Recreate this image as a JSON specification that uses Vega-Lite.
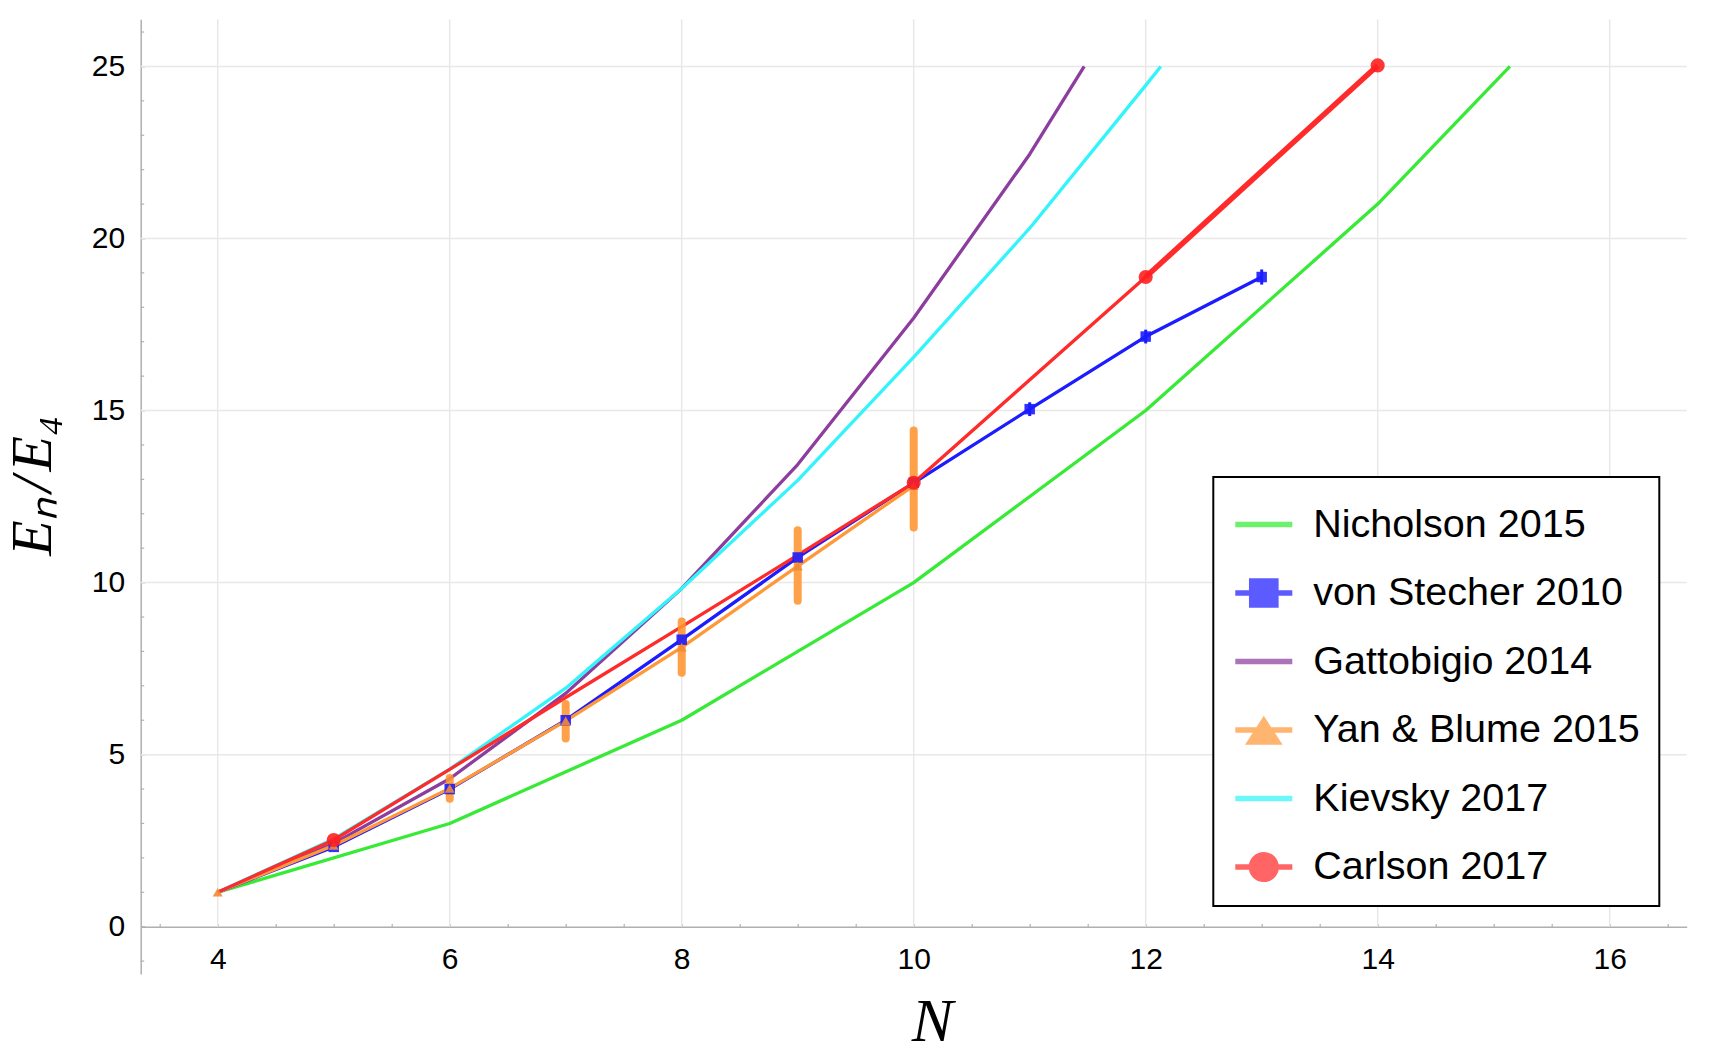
{
  "$schema": "https://vega.github.io/schema/vega-lite/v6.json",
  "width": 1546,
  "height": 954.7,
  "autosize": {"type": "none"},
  "padding": {"left": 140.7, "top": 19.3, "right": 25.3, "bottom": 84},
  "background": "white",
  "config": {
    "view": {"stroke": null},
    "font": "Liberation Sans",
    "legend": {"strokeWidth": 2},
    "axis": {"labelOverlap": false}
  },
  "datasets": {
    "curves": [
      {"series": "Nicholson 2015", "N": 4, "E": 1},
      {"series": "Nicholson 2015", "N": 6, "E": 3},
      {"series": "Nicholson 2015", "N": 8, "E": 6},
      {"series": "Nicholson 2015", "N": 10, "E": 10},
      {"series": "Nicholson 2015", "N": 12, "E": 15},
      {"series": "Nicholson 2015", "N": 14, "E": 21},
      {"series": "Nicholson 2015", "N": 15.14, "E": 25},
      {"series": "von Stecher 2010", "N": 4, "E": 1},
      {"series": "von Stecher 2010", "N": 5, "E": 2.32},
      {"series": "von Stecher 2010", "N": 6, "E": 4.0},
      {"series": "von Stecher 2010", "N": 7, "E": 6.0},
      {"series": "von Stecher 2010", "N": 8, "E": 8.34},
      {"series": "von Stecher 2010", "N": 9, "E": 10.73},
      {"series": "von Stecher 2010", "N": 10, "E": 12.9},
      {"series": "von Stecher 2010", "N": 11, "E": 15.04},
      {"series": "von Stecher 2010", "N": 12, "E": 17.15},
      {"series": "von Stecher 2010", "N": 13, "E": 18.88},
      {"series": "Gattobigio 2014", "N": 4, "E": 1},
      {"series": "Gattobigio 2014", "N": 5, "E": 2.42},
      {"series": "Gattobigio 2014", "N": 6, "E": 4.3},
      {"series": "Gattobigio 2014", "N": 7, "E": 6.78},
      {"series": "Gattobigio 2014", "N": 8, "E": 9.83},
      {"series": "Gattobigio 2014", "N": 9, "E": 13.43},
      {"series": "Gattobigio 2014", "N": 10, "E": 17.69},
      {"series": "Gattobigio 2014", "N": 11, "E": 22.45},
      {"series": "Gattobigio 2014", "N": 11.47, "E": 25},
      {"series": "Yan & Blume 2015", "N": 4, "E": 1},
      {"series": "Yan & Blume 2015", "N": 5, "E": 2.36},
      {"series": "Yan & Blume 2015", "N": 6, "E": 4.02},
      {"series": "Yan & Blume 2015", "N": 7, "E": 5.98},
      {"series": "Yan & Blume 2015", "N": 8, "E": 8.12},
      {"series": "Yan & Blume 2015", "N": 9, "E": 10.48},
      {"series": "Yan & Blume 2015", "N": 10, "E": 12.82},
      {"series": "Kievsky 2017", "N": 4, "E": 1},
      {"series": "Kievsky 2017", "N": 5, "E": 2.55},
      {"series": "Kievsky 2017", "N": 6, "E": 4.58},
      {"series": "Kievsky 2017", "N": 7, "E": 6.93},
      {"series": "Kievsky 2017", "N": 8, "E": 9.83},
      {"series": "Kievsky 2017", "N": 9, "E": 12.97},
      {"series": "Kievsky 2017", "N": 10, "E": 16.55},
      {"series": "Kievsky 2017", "N": 11, "E": 20.3},
      {"series": "Kievsky 2017", "N": 12, "E": 24.45},
      {"series": "Kievsky 2017", "N": 12.13, "E": 25},
      {"series": "Carlson 2017", "N": 4, "E": 1},
      {"series": "Carlson 2017", "N": 5, "E": 2.52},
      {"series": "Carlson 2017", "N": 6, "E": 4.57},
      {"series": "Carlson 2017", "N": 7, "E": 6.66},
      {"series": "Carlson 2017", "N": 8, "E": 8.72},
      {"series": "Carlson 2017", "N": 9, "E": 10.8},
      {"series": "Carlson 2017", "N": 10, "E": 12.9},
      {"series": "Carlson 2017", "N": 12, "E": 18.88},
      {"series": "Carlson 2017", "N": 14, "E": 25.03}
    ],
    "markers": [
      {"series": "von Stecher 2010", "N": 5, "E": 2.32},
      {"series": "von Stecher 2010", "N": 6, "E": 4.0},
      {"series": "von Stecher 2010", "N": 7, "E": 6.0},
      {"series": "von Stecher 2010", "N": 8, "E": 8.34},
      {"series": "von Stecher 2010", "N": 9, "E": 10.73},
      {"series": "von Stecher 2010", "N": 10, "E": 12.9},
      {"series": "von Stecher 2010", "N": 11, "E": 15.04, "lo": 14.84, "hi": 15.24},
      {"series": "von Stecher 2010", "N": 12, "E": 17.15, "lo": 16.95, "hi": 17.35},
      {"series": "von Stecher 2010", "N": 13, "E": 18.88, "lo": 18.66, "hi": 19.1},
      {"series": "Yan & Blume 2015", "N": 4, "E": 1},
      {"series": "Yan & Blume 2015", "N": 5, "E": 2.36},
      {"series": "Yan & Blume 2015", "N": 6, "E": 4.02, "lo": 3.72, "hi": 4.32},
      {"series": "Yan & Blume 2015", "N": 7, "E": 5.98, "lo": 5.47, "hi": 6.47},
      {"series": "Yan & Blume 2015", "N": 8, "E": 8.12, "lo": 7.38, "hi": 8.87},
      {"series": "Yan & Blume 2015", "N": 9, "E": 10.48, "lo": 9.47, "hi": 11.52},
      {"series": "Yan & Blume 2015", "N": 10, "E": 12.82, "lo": 11.6, "hi": 14.42},
      {"series": "Carlson 2017", "N": 5, "E": 2.52},
      {"series": "Carlson 2017", "N": 10, "E": 12.9},
      {"series": "Carlson 2017", "N": 12, "E": 18.88},
      {"series": "Carlson 2017", "N": 14, "E": 25.03}
    ],
    "vgrid": [{"N": 4}, {"N": 6}, {"N": 8}, {"N": 10}, {"N": 12}, {"N": 14}, {"N": 16}],
    "hgrid": [{"E": 5}, {"E": 10}, {"E": 15}, {"E": 20}, {"E": 25}],
    "yminor": [
      {"E": -1}, {"E": 1}, {"E": 2}, {"E": 3}, {"E": 4}, {"E": 6}, {"E": 7}, {"E": 8}, {"E": 9},
      {"E": 11}, {"E": 12}, {"E": 13}, {"E": 14}, {"E": 16}, {"E": 17}, {"E": 18}, {"E": 19},
      {"E": 21}, {"E": 22}, {"E": 23}, {"E": 24}, {"E": 26}
    ]
  },
  "layer": [
    {
      "data": {"name": "vgrid"},
      "mark": {"type": "rule", "color": "#e8e8e8", "strokeWidth": 1.5},
      "encoding": {
        "x": {"field": "N", "type": "quantitative", "scale": {"domain": [3.336, 16.664], "nice": false, "zero": false}, "axis": {"title": "N"}},
        "y": {"datum": 0, "type": "quantitative", "scale": {"domain": [-1.375, 26.37], "nice": false, "zero": false}, "axis": {"title": "E\u2099\u200a/\u200aE\u2084"}},
        "y2": {"datum": 26.37}
      }
    },
    {
      "data": {"name": "hgrid"},
      "mark": {"type": "rule", "color": "#e8e8e8", "strokeWidth": 1.5},
      "encoding": {
        "y": {"field": "E", "type": "quantitative", "axis": {"title": "E\u2099\u200a/\u200aE\u2084"}},
        "x": {"datum": 3.336, "type": "quantitative", "axis": {"title": "N"}},
        "x2": {"datum": 16.664}
      }
    },
    {
      "data": {"name": "yminor"},
      "mark": {"type": "rule", "color": "#b0b0b0", "strokeWidth": 1.2},
      "encoding": {
        "y": {"field": "E", "type": "quantitative", "axis": {"title": "E\u2099\u200a/\u200aE\u2084"}},
        "x": {"datum": 3.336, "type": "quantitative", "axis": {"title": "N"}},
        "x2": {"datum": 3.366}
      }
    },
    {
      "data": {"name": "curves"},
      "mark": {"type": "line", "strokeWidth": 3.3, "strokeJoin": "round"},
      "encoding": {
        "x": {
          "field": "N", "type": "quantitative",
          "axis": {
            "title": "N",
            "values": [3.5, 4, 4.5, 5, 5.5, 6, 6.5, 7, 7.5, 8, 8.5, 9, 9.5, 10, 10.5, 11, 11.5, 12, 12.5, 13, 13.5, 14, 14.5, 15, 15.5, 16, 16.5],
            "labelExpr": "datum.value % 2 === 0 ? format(datum.value, 'd') : ''",
            "grid": false,
            "offset": -47.3,
            "domainColor": "#b0b0b0", "domainWidth": 1.5,
            "tickColor": "#b0b0b0", "tickWidth": 1.2, "tickSize": -3.3,
            "labelPadding": 21, "labelFont": "Liberation Sans", "labelFontSize": 30, "labelColor": "black",
            "labelOverlap": false, "labelFlush": false,
            "titleFont": "Liberation Serif", "titleFontStyle": "italic", "titleFontWeight": "normal",
            "titleFontSize": 62, "titleColor": "black",
            "titleX": 791.3, "titleY": 113.3, "titleBaseline": "alphabetic", "titleAlign": "center"
          }
        },
        "y": {
          "field": "E", "type": "quantitative",
          "axis": {
            "title": "E\u2099\u200a/\u200aE\u2084",
            "values": [0, 5, 10, 15, 20, 25],
            "format": "d",
            "grid": false,
            "domainColor": "#b0b0b0", "domainWidth": 1.5,
            "tickColor": "#b0b0b0", "tickWidth": 1.2, "tickSize": -4,
            "labelPadding": 20, "labelFont": "Liberation Sans", "labelFontSize": 30, "labelColor": "black",
            "labelOverlap": false, "labelFlush": false,
            "titleFont": "Liberation Serif", "titleFontStyle": "italic", "titleFontWeight": "normal",
            "titleFontSize": 58, "titleColor": "black",
            "titleX": -90, "titleY": 466, "titleAngle": 270, "titleBaseline": "alphabetic", "titleAlign": "center"
          }
        },
        "stroke": {
          "field": "series", "type": "nominal",
          "scale": {
            "domain": ["Carlson 2017", "Kievsky 2017", "Yan & Blume 2015", "Gattobigio 2014", "von Stecher 2010", "Nicholson 2015"],
            "range": ["#ff2a2a", "#33f4fa", "#ff9838", "#8c3d9e", "#1c1cff", "#36ea36"]
          },
          "legend": null
        },
        "order": {"field": "N", "type": "quantitative"}
      }
    },
    {
      "data": {"name": "curves"},
      "transform": [{"filter": "datum.series === 'Carlson 2017' && datum.N >= 12"}],
      "mark": {"type": "line", "strokeWidth": 5.5, "color": "#ff2a2a"},
      "encoding": {
        "x": {"field": "N", "type": "quantitative", "axis": {"title": "N"}},
        "y": {"field": "E", "type": "quantitative", "axis": {"title": "E\u2099\u200a/\u200aE\u2084"}}
      }
    },
    {
      "data": {"name": "markers"},
      "transform": [{"filter": "datum.series === 'von Stecher 2010' && isValid(datum.lo)"}],
      "mark": {"type": "rule", "strokeWidth": 3, "color": "#1c1cff"},
      "encoding": {
        "x": {"field": "N", "type": "quantitative", "axis": {"title": "N"}},
        "y": {"field": "lo", "type": "quantitative", "axis": {"title": "E\u2099\u200a/\u200aE\u2084"}},
        "y2": {"field": "hi"}
      }
    },
    {
      "data": {"name": "markers"},
      "transform": [{"filter": "datum.series === 'Yan & Blume 2015' && isValid(datum.lo)"}],
      "mark": {"type": "rule", "strokeWidth": 8, "strokeCap": "round", "color": "#ff9430", "opacity": 0.88},
      "encoding": {
        "x": {"field": "N", "type": "quantitative", "axis": {"title": "N"}},
        "y": {"field": "lo", "type": "quantitative", "axis": {"title": "E\u2099\u200a/\u200aE\u2084"}},
        "y2": {"field": "hi"}
      }
    },
    {
      "data": {"name": "markers"},
      "transform": [{"filter": "datum.series === 'von Stecher 2010'"}],
      "mark": {"type": "point", "shape": "square", "filled": true, "size": 110, "color": "#1c1cff", "opacity": 0.9},
      "encoding": {
        "x": {"field": "N", "type": "quantitative", "axis": {"title": "N"}},
        "y": {"field": "E", "type": "quantitative", "axis": {"title": "E\u2099\u200a/\u200aE\u2084"}}
      }
    },
    {
      "data": {"name": "markers"},
      "transform": [{"filter": "datum.series === 'Yan & Blume 2015'"}],
      "mark": {"type": "point", "shape": "triangle-up", "filled": true, "size": 100, "color": "#f28a35", "opacity": 0.9},
      "encoding": {
        "x": {"field": "N", "type": "quantitative", "axis": {"title": "N"}},
        "y": {"field": "E", "type": "quantitative", "axis": {"title": "E\u2099\u200a/\u200aE\u2084"}}
      }
    },
    {
      "data": {"name": "markers"},
      "transform": [{"filter": "datum.series === 'Carlson 2017'"}],
      "mark": {"type": "point", "shape": "circle", "filled": true, "size": 200, "color": "#ff2020", "opacity": 0.9},
      "encoding": {
        "x": {"field": "N", "type": "quantitative", "axis": {"title": "N"}},
        "y": {"field": "E", "type": "quantitative", "axis": {"title": "E\u2099\u200a/\u200aE\u2084"}}
      }
    },
    {
      "data": {"name": "curves"},
      "transform": [{"filter": "false"}],
      "mark": {"type": "point", "filled": true},
      "encoding": {
        "x": {"field": "N", "type": "quantitative", "axis": {"title": "N"}},
        "y": {"field": "E", "type": "quantitative", "axis": {"title": "E\u2099\u200a/\u200aE\u2084"}},
        "fill": {
          "field": "series", "type": "nominal",
          "scale": {
            "domain": ["Nicholson 2015", "von Stecher 2010", "Gattobigio 2014", "Yan & Blume 2015", "Kievsky 2017", "Carlson 2017"],
            "range": ["#36ea36", "#1c1cff", "#8c3d9e", "#ff9838", "#33f4fa", "#ff2a2a"]
          },
          "legend": {
            "title": null, "orient": "none", "legendX": 1072.6, "legendY": 457.7,
            "padding": 19, "strokeColor": "black", "fillColor": "white",
            "labelFont": "Liberation Sans", "labelFontSize": 39.5, "labelColor": "black", "labelLimit": 600,
            "symbolSize": 3249, "symbolStrokeWidth": 0, "symbolOpacity": 0.72,
            "rowPadding": 20.5, "labelOffset": 21, "symbolOffset": 3
          }
        },
        "shape": {
          "field": "series", "type": "nominal",
          "scale": {
            "domain": ["Nicholson 2015", "von Stecher 2010", "Gattobigio 2014", "Yan & Blume 2015", "Kievsky 2017", "Carlson 2017"],
            "range": [
              "M-1,-0.1H1V0.1H-1Z",
              "M-1,-0.1H1V0.1H-1Z M-0.52,-0.52H0.52V0.52H-0.52Z",
              "M-1,-0.1H1V0.1H-1Z",
              "M-1,-0.1H1V0.1H-1Z M0,-0.5L0.66,0.52H-0.66Z",
              "M-1,-0.1H1V0.1H-1Z",
              "M-1,-0.1H1V0.1H-1Z M-0.53,0A0.53,0.53 0 1,1 0.53,0A0.53,0.53 0 1,1 -0.53,0Z"
            ]
          },
          "legend": {
            "title": null, "orient": "none", "legendX": 1072.6, "legendY": 457.7,
            "padding": 19, "strokeColor": "black", "fillColor": "white",
            "labelFont": "Liberation Sans", "labelFontSize": 39.5, "labelColor": "black", "labelLimit": 600,
            "symbolSize": 3249, "symbolStrokeWidth": 0, "symbolOpacity": 0.72,
            "rowPadding": 20.5, "labelOffset": 21, "symbolOffset": 3
          }
        }
      }
    }
  ]
}
